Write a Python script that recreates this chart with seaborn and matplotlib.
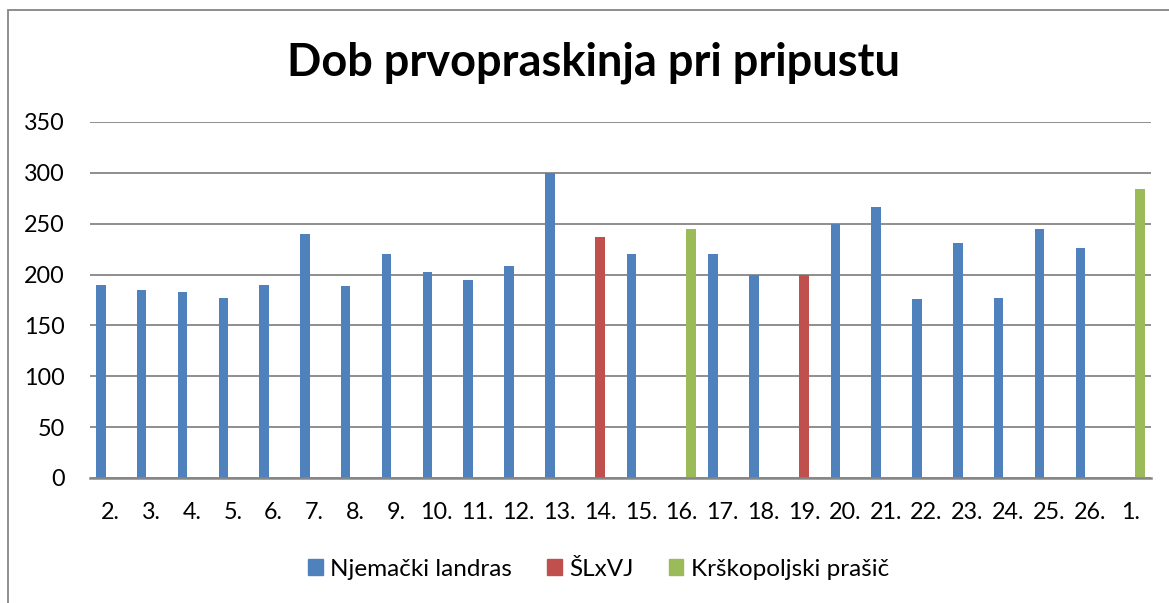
import matplotlib
matplotlib.use("Agg")
import matplotlib.pyplot as plt
import matplotlib.patches as mpatches
import seaborn as sns
import pandas as pd

categories = ["2.", "3.", "4.", "5.", "6.", "7.", "8.", "9.", "10.", "11.", "12.", "13.",
              "14.", "15.", "16.", "17.", "18.", "19.", "20.", "21.", "22.", "23.", "24.",
              "25.", "26.", "1."]
values = [190, 185, 183, 177, 190, 240, 189, 220, 203, 195, 208, 300,
          237, 220, 245, 220, 200, 200, 250, 266, 176, 231, 177,
          245, 226, 284]
breeds = ["Njemački landras"] * 12 + ["ŠLxVJ", "Njemački landras", "Krškopoljski prašič",
          "Njemački landras", "Njemački landras", "ŠLxVJ"] + ["Njemački landras"] * 7 + \
         ["Krškopoljski prašič"]
series = ["Njemački landras", "ŠLxVJ", "Krškopoljski prašič"]
colors = ["#4F81BD", "#C0504D", "#9BBB59"]
yticks = [0, 50, 100, 150, 200, 250, 300, 350]
title = "Dob prvopraskinja pri pripustu"

df = pd.DataFrame({"cat": categories, "val": values, "breed": breeds})

sns.set_theme(style="white")
plt.rcParams["font.family"] = ["Lato", "DejaVu Sans"]
plt.rcParams["text.color"] = "black"

fig = plt.figure(figsize=(11.69, 6.03), dpi=100)
ax = fig.add_axes([90 / 1169, 1 - 478 / 603, (1151 - 90) / 1169, (478 - 122) / 603])

sns.barplot(data=df, x="cat", y="val", hue="breed", order=categories, hue_order=series,
            palette=dict(zip(series, colors)), width=0.7, dodge=True, saturation=1,
            linewidth=0, legend=False, ax=ax)

ax.set_ylim(0, 350)
ax.set_xlim(-0.5, len(categories) - 0.5)
ax.set_yticks(yticks)
ax.set_yticklabels([str(v) for v in yticks])
ax.set_xlabel("")
ax.set_ylabel("")
ax.grid(axis="y", color="#868686", linewidth=1.3)
ax.grid(axis="x", visible=False)
ax.set_axisbelow(True)
for s in ["top", "right", "left"]:
    ax.spines[s].set_visible(False)
ax.spines["bottom"].set_color("#868686")
ax.spines["bottom"].set_linewidth(1.8)
ax.tick_params(axis="both", length=0, labelsize=16.8, colors="black")
ax.tick_params(axis="y", pad=18)
ax.tick_params(axis="x", pad=17)

fig.text(0.508, 1 - 63 / 603, title, ha="center", va="center", fontsize=32.5,
         fontweight="bold", color="black")

handles = [mpatches.Patch(color=c, label=s) for s, c in zip(series, colors)]
leg = fig.legend(handles=handles, loc="center", bbox_to_anchor=(0.512, 1 - 569 / 603), ncol=3,
                 frameon=False, fontsize=17.5, handlelength=0.6, handleheight=0.6,
                 handletextpad=0.3, columnspacing=1.45)
for t in leg.get_texts():
    t.set_color("black")

border = mpatches.Rectangle((8 / 1169, -0.05), 1.2, 1 - 10 / 603 + 0.05,
                            transform=fig.transFigure, fill=False,
                            edgecolor="#868686", linewidth=1.3)
fig.add_artist(border)

fig.savefig("out.png", dpi=100)
